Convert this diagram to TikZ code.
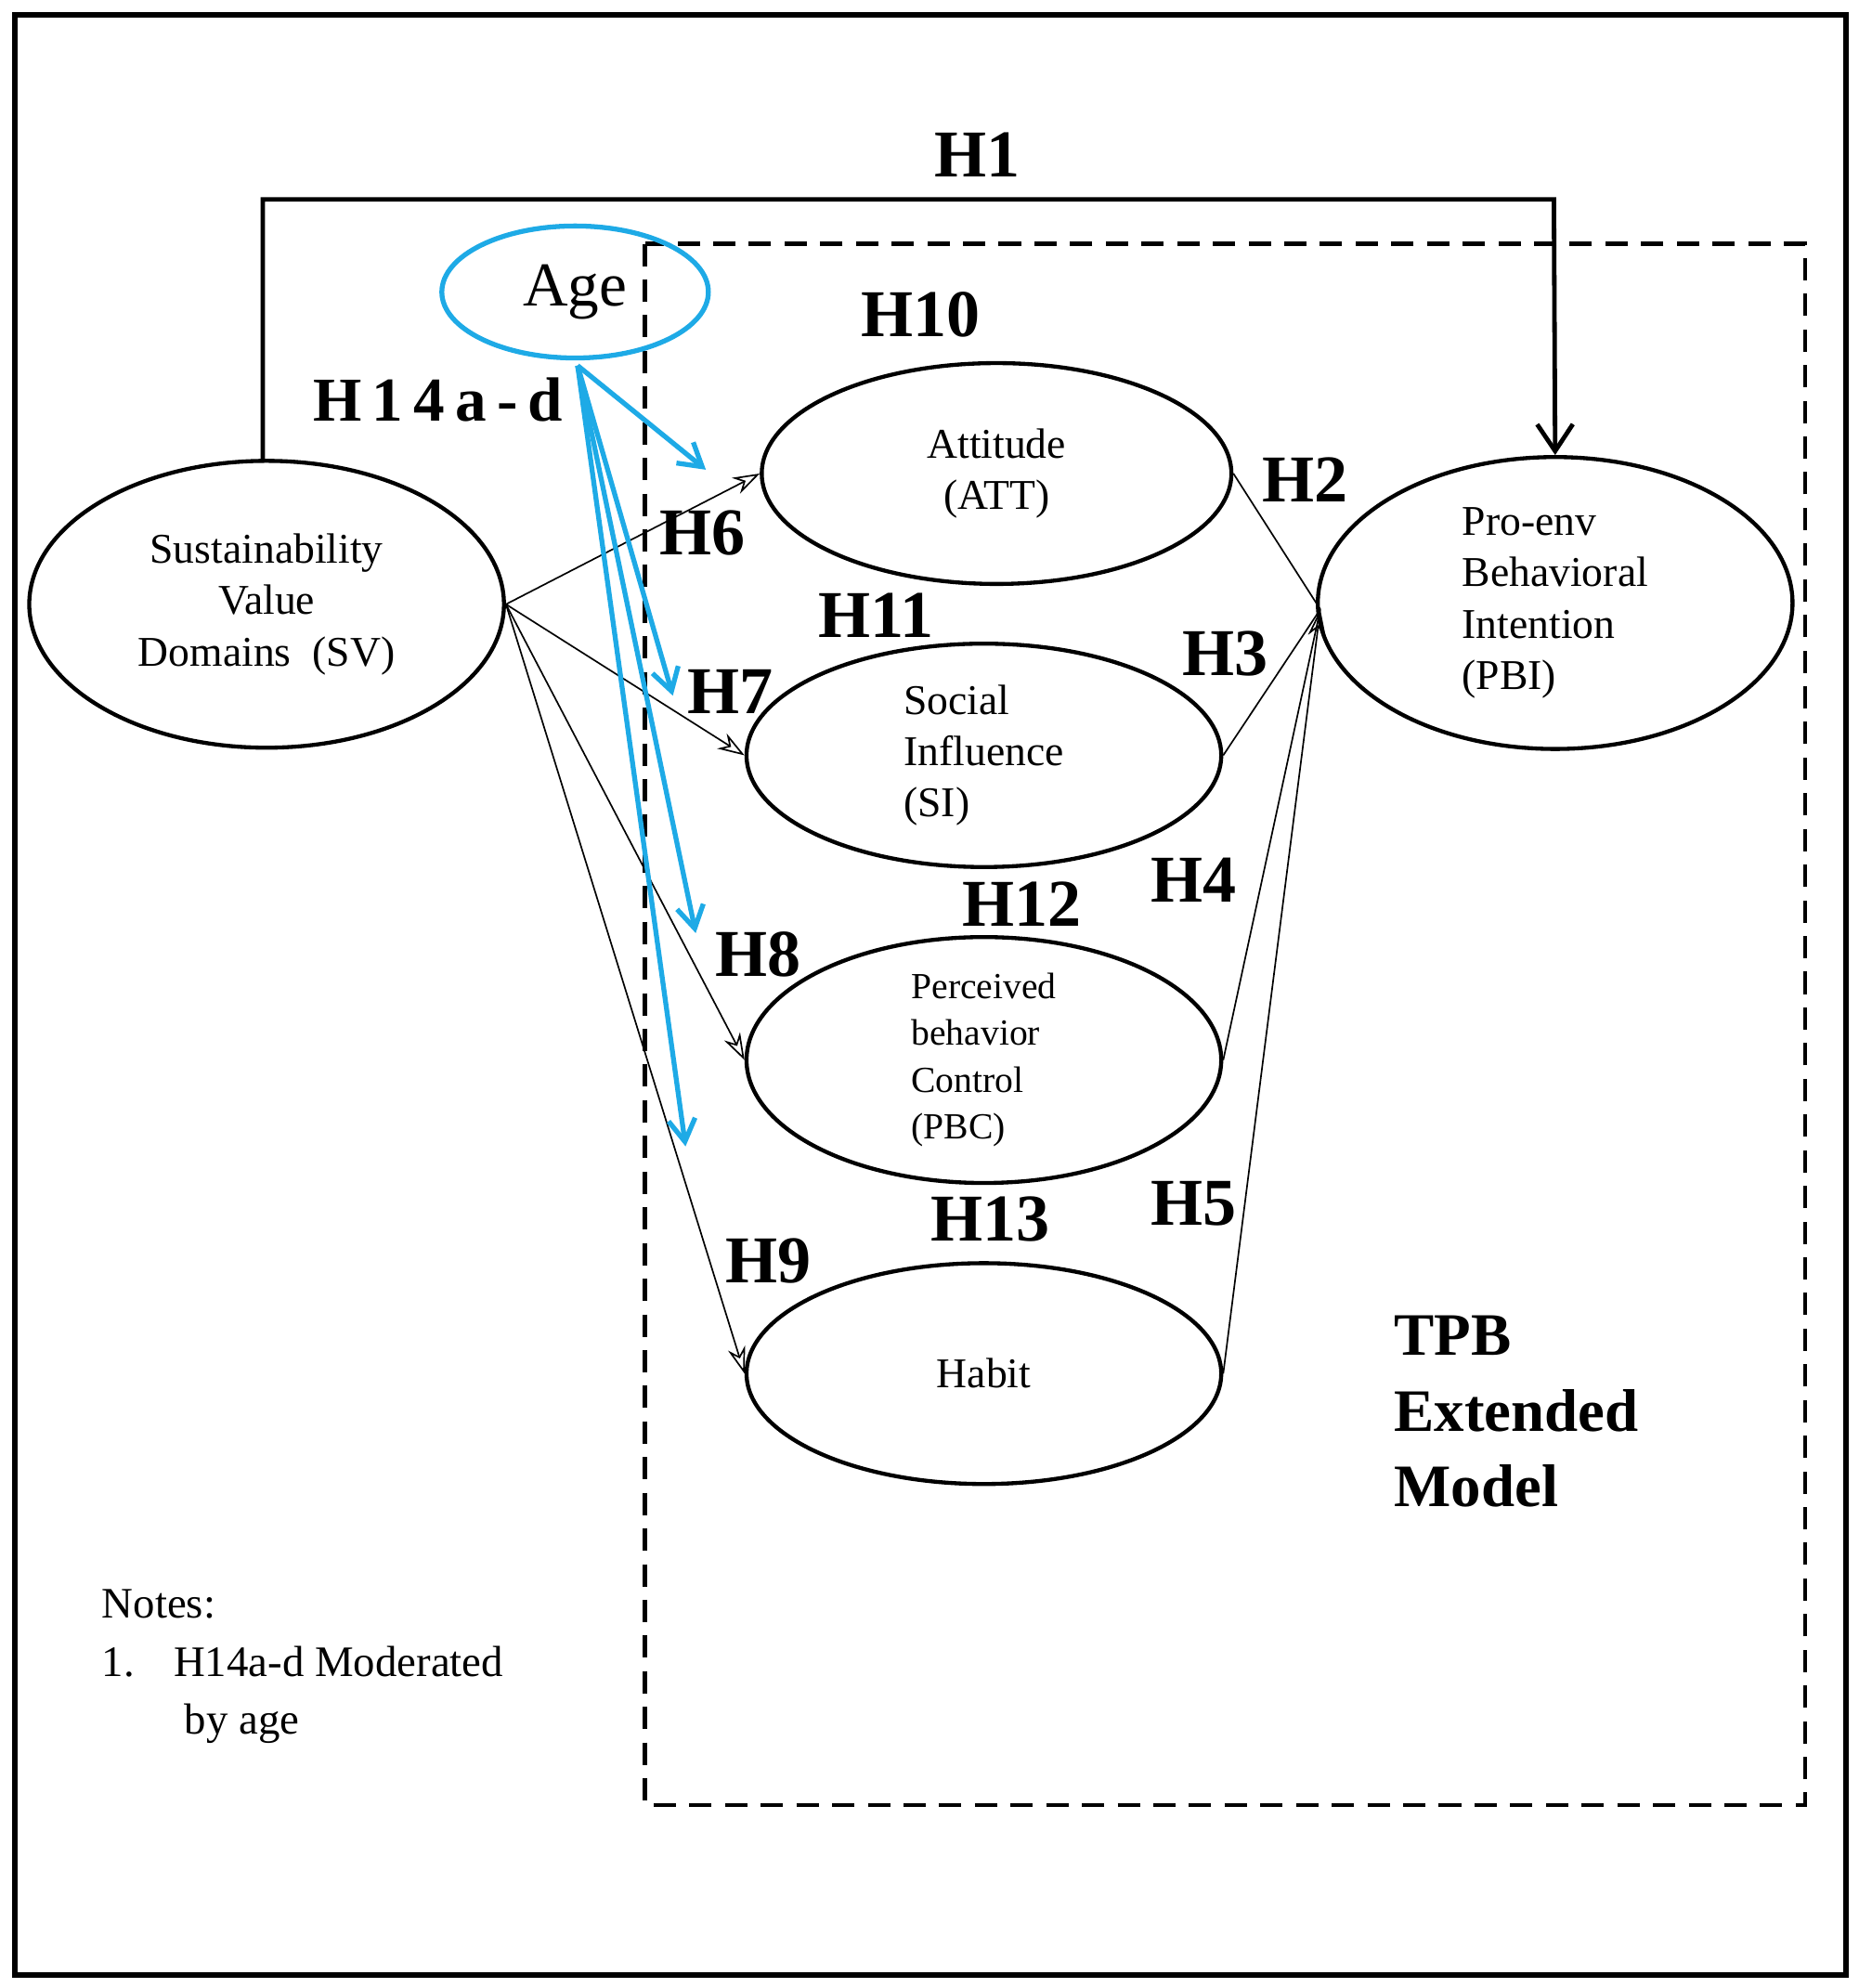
\documentclass[tikz,border=0pt]{standalone}
\usepackage{fontspec}
\setmainfont{Liberation Serif}
\usetikzlibrary{shapes.geometric,arrows.meta}
\definecolor{agec}{RGB}{30,170,230}
\begin{document}
\begin{tikzpicture}[x=0.02cm,y=-0.02cm,
  ell/.style={draw,ellipse,line width=1.8pt,inner sep=0pt,align=center,font=\fontsize{19}{23}\selectfont},
  hl/.style={font=\fontsize{30}{32}\selectfont\bfseries},
  arr/.style={-{Stealth[length=12pt,width=8pt,open]},line width=0.7pt},
  barr/.style={agec,line width=2.2pt,-{Straight Barb[length=10pt,width=12pt]}}]
\useasboundingbox (0,0) rectangle (1464,1566);
\draw[line width=2.5pt] (12,12) rectangle (1454,1556);
\draw[dashed,line width=1.8pt,dash pattern=on 10pt off 6pt] (508,192) rectangle (1422,1422);
\node[ell,minimum width=7.48cm,minimum height=4.52cm] (sv) at (210,476) {Sustainability\\Value\\Domains\ \ (SV)};
\node[ell,minimum width=7.4cm,minimum height=3.48cm] (att) at (785,373) {Attitude\\(ATT)};
\node[ell,minimum width=7.48cm,minimum height=3.52cm,align=left] (si) at (775,595) {Social\\Influence\\(SI)};
\node[ell,minimum width=7.48cm,minimum height=3.52cm,align=left,font=\fontsize{16.5}{21}\selectfont] (pbc) at (775,835) {Perceived\\behavior\\Control\\(PBC)};
\node[ell,minimum width=7.48cm,minimum height=3.48cm] (hab) at (775,1082) {Habit};
\node[ell,minimum width=7.48cm,minimum height=4.6cm,align=left] (pbi) at (1225,475) {Pro-env\\Behavioral\\Intention\\(PBI)};
\node[draw=agec,ellipse,line width=2.2pt,minimum width=4.2cm,minimum height=2.08cm,font=\fontsize{28}{30}\selectfont] (age) at (453,230) {Age};
% H1
\coordinate (h1a) at (207,157);
\coordinate (h1b) at (1224,157);
\draw[line width=2pt,-{Straight Barb[length=12pt,width=16pt]}] (sv.north -| h1a) -- (h1a) -- (h1b) -- (pbi.north);
\node[hl] (h1) at (770,122) {H1};
% SV arrows
\draw[arr] (sv.east) -- (att.west);
\draw[arr] (sv.east) -- (si.west);
\draw[arr] (sv.east) -- (pbc.west);
\draw[arr] (sv.east) -- (hab.west);
% to PBI
\coordinate (pin) at (1040,480);
\draw[line width=0.7pt] (att.east) -- (pin);
\draw[line width=0.7pt] (si.east) -- (pin);
\draw[line width=0.7pt] (pbc.east) -- (pin);
\draw[line width=0.7pt,-{Stealth[length=12pt,width=8pt,open]}] (hab.east) -- (pin);
% blue
\coordinate (b0) at (455,288);
\coordinate (b1) at (556,370);
\coordinate (b2) at (530,548);
\coordinate (b3) at (548,735);
\coordinate (b4) at (540,903);
\draw[barr] (b0) -- (b1);
\draw[barr] (b0) -- (b2);
\draw[barr] (b0) -- (b3);
\draw[barr] (b0) -- (b4);
\node[font=\fontsize{28}{30}\selectfont\bfseries] (h14) at (345,315) {H\,1\,4\,a\,-\,d};
\node[hl] (h6) at (553,420) {H6};
\node[hl] (h7) at (575,545) {H7};
\node[hl] (h8) at (597,752) {H8};
\node[hl] (h9) at (605,993) {H9};
\node[hl] (h10) at (725,248) {H10};
\node[hl] (h11) at (690,485) {H11};
\node[hl] (h12) at (805,712) {H12};
\node[hl] (h13) at (780,960) {H13};
\node[hl] (h2) at (1028,378) {H2};
\node[hl] (h3) at (965,515) {H3};
\node[hl] (h4) at (940,693) {H4};
\node[hl] (h5) at (940,948) {H5};
\node[anchor=north west,align=left,font=\fontsize{27}{34}\selectfont\bfseries,inner sep=0pt] (tpb) at (1098,1036) {TPB\\Extended\\Model};
\node[anchor=north west,align=left,font=\fontsize{19.5}{26}\selectfont,inner sep=0pt] (notes) at (80,1252) {Notes:\\1.\hspace{0.9em}H14a-d Moderated\\\hspace{1.9em}by age};
\end{tikzpicture}
\end{document}
